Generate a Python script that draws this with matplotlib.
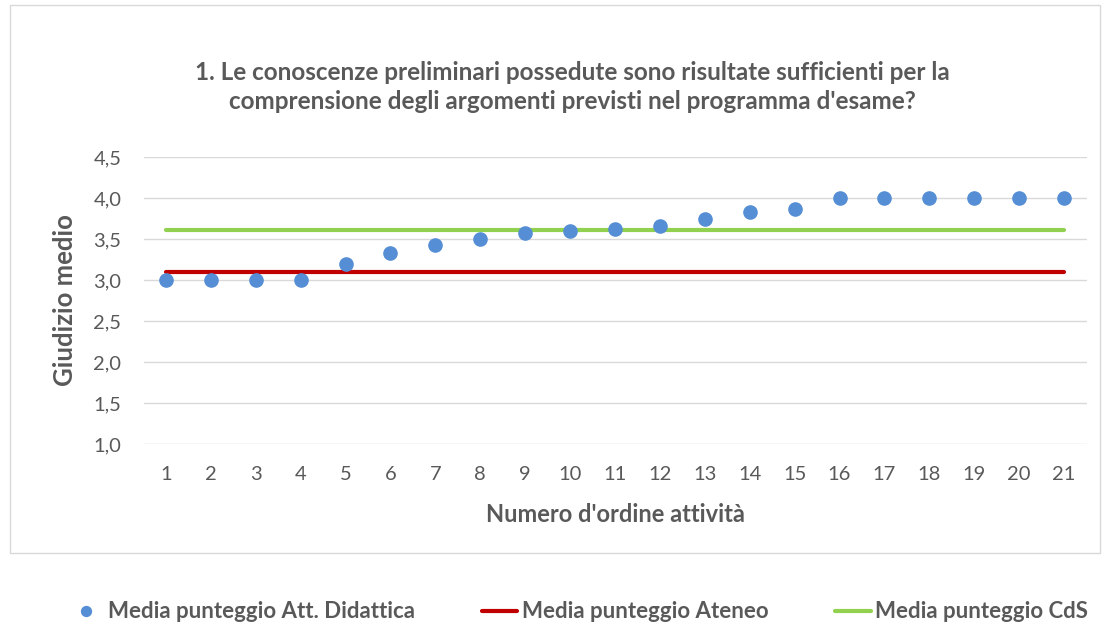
import matplotlib.pyplot as plt
from matplotlib.patches import Rectangle

plt.rcParams['font.family'] = ['Lato', 'DejaVu Sans']

# Data
attivita = list(range(1, 22))
media_att = [3.0, 3.0, 3.0, 3.0, 3.2, 3.33, 3.43, 3.5, 3.57, 3.6, 3.62,
             3.66, 3.75, 3.83, 3.87, 4.0, 4.0, 4.0, 4.0, 4.0, 4.0]
media_ateneo = [3.10] * 21
media_cds = [3.61] * 21
y_ticks = [1.0, 1.5, 2.0, 2.5, 3.0, 3.5, 4.0, 4.5]
y_labels = ["1,0", "1,5", "2,0", "2,5", "3,0", "3,5", "4,0", "4,5"]

text_col = "#595959"

fig = plt.figure(figsize=(11.11, 6.27), dpi=100)
ax = fig.add_axes([143.5 / 1111, (627 - 444) / 627, 943 / 1111, 287 / 627])

# Chart border
fig.patches.append(Rectangle((10 / 1111, (627 - 553) / 627), 1090 / 1111, 548 / 627,
                             transform=fig.transFigure, fill=False,
                             edgecolor="#d9d9d9", linewidth=1))

ax.plot(attivita, media_ateneo, color="#c00000", linewidth=3, solid_capstyle="round",
        label="Media punteggio Ateneo", zorder=3)
ax.plot(attivita, media_cds, color="#92d050", linewidth=3, solid_capstyle="round",
        label="Media punteggio CdS", zorder=3)
ax.plot(attivita, media_att, "o", color="#558ed5", markersize=9.5, linestyle="none",
        label="Media punteggio Att. Didattica", zorder=4)

ax.set_xlim(0.5, 21.5)
ax.set_ylim(1.0, 4.5)
ax.set_xticks(attivita)
ax.set_yticks(y_ticks)
ax.set_yticklabels(y_labels)
ax.tick_params(axis="both", length=0, labelsize=14.5, labelcolor=text_col)
ax.tick_params(axis="x", pad=16)
ax.tick_params(axis="y", pad=16)
ax.grid(axis="y", color="#d9d9d9", linewidth=1)
ax.set_axisbelow(True)
for s in ax.spines.values():
    s.set_visible(False)

ax.set_xlabel("Numero d'ordine attività", fontsize=17, fontweight="bold",
              color=text_col, labelpad=14)
ax.set_ylabel("Giudizio medio", fontsize=18.5, fontweight="bold",
              color=text_col, labelpad=12)

fig.text(572 / 1111, 1 - 87 / 627,
         "1. Le conoscenze preliminari possedute sono risultate sufficienti per la\n"
         "comprensione degli argomenti previsti nel programma d'esame?",
         ha="center", va="center", fontsize=17.5, fontweight="bold",
         color=text_col, linespacing=1.3)

h, l = ax.get_legend_handles_labels()
order = [2, 0, 1]
leg = fig.legend([h[i] for i in order], [l[i] for i in order], loc="center",
                 bbox_to_anchor=(578 / 1111, 1 - 612 / 627), ncol=3, frameon=False,
                 prop={"size": 16, "weight": "bold"}, columnspacing=3.0,
                 handlelength=1.6, handletextpad=0.2, markerscale=0.75)
for t in leg.get_texts():
    t.set_color(text_col)

fig.savefig("out.png", dpi=100)
